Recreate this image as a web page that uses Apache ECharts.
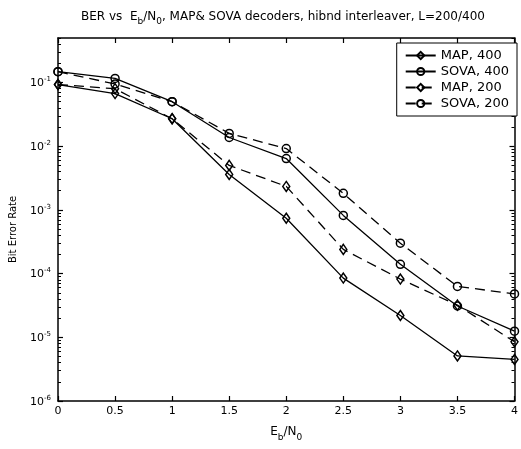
<!DOCTYPE html>
<html>
<head>
<meta charset="utf-8">
<script src="https://cdn.jsdelivr.net/npm/echarts@6/dist/echarts.min.js"></script>
<style>
html,body{margin:0;padding:0;background:#fff;}
#chart{width:521px;height:449px;}
</style>
</head>
<body>
<div id="chart"></div>
<script>
// ---- data ----
const ebno = [0, 0.5, 1, 1.5, 2, 2.5, 3, 3.5, 4];
const map400  = [0.093, 0.067, 0.027, 0.0036, 7.4e-4, 8.5e-5, 2.2e-5, 5.1e-6, 4.5e-6];
const sova400 = [0.148, 0.116, 0.050, 0.0137, 6.4e-3, 8.2e-4, 1.4e-4, 3.1e-5, 1.25e-5];
const map200  = [0.093, 0.080, 0.027, 0.0050, 2.34e-3, 2.4e-4, 8.2e-5, 3.2e-5, 8.5e-6];
const sova200 = [0.148, 0.095, 0.050, 0.0159, 9.2e-3, 1.82e-3, 3.0e-4, 6.3e-5, 4.8e-5];
const seriesNames = ['MAP, 400', 'SOVA, 400', 'MAP, 200', 'SOVA, 200'];
const xTickLabels = ['0', '0.5', '1', '1.5', '2', '2.5', '3', '3.5', '4'];
const yDecadeTicks = [1e-6, 1e-5, 1e-4, 1e-3, 1e-2, 1e-1];
const yMinorTicks = [];
for (let k = -6; k <= -1; k++) {
  for (let m = 2; m <= 9; m++) {
    const v = m * Math.pow(10, k);
    if (v <= 0.5) yMinorTicks.push(v);
  }
}

const FONT = 'DejaVu Sans';
const pairs = arr => ebno.map((x, i) => [x, arr[i]]);

const chart = echarts.init(document.getElementById('chart'), null, {renderer: 'canvas'});

const axisLineStyle = {show: true, lineStyle: {color: '#000', width: 1.5}};
const yBase = {type: 'log', logBase: 10, min: 1e-6, max: 0.5, splitLine: {show: false}};

function mkSeries(name, data, symbol, dashed) {
  return {
    name: name,
    type: 'line',
    data: pairs(data),
    symbol: symbol,
    symbolSize: symbol === 'diamond' ? [7, 10] : 8,
    showSymbol: true,
    showAllSymbol: true,
    lineStyle: {color: '#000', width: 1.3, type: dashed ? [10, 6] : 'solid'},
    itemStyle: {color: 'rgba(255,255,255,0)', borderColor: '#000', borderWidth: 1.5},
    emphasis: {disabled: true},
    animation: false,
    z: 3
  };
}

const option = {
  backgroundColor: '#fff',
  animation: false,
  title: {
    text: '{n|BER vs  E}{s|b}{n|/N}{s|0}{n|, MAP& SOVA decoders, hibnd interleaver, L=200/400}',
    left: 76,
    top: 6,
    textStyle: {
      fontWeight: 'normal',
      rich: {
        n: {fontFamily: FONT, fontSize: 12, fontWeight: 'normal', color: '#000', verticalAlign: 'bottom', padding: [0, 0, 3, 0]},
        s: {fontFamily: FONT, fontSize: 9, fontWeight: 'normal', color: '#000', verticalAlign: 'bottom'}
      }
    }
  },
  grid: {left: 56, right: 3, top: 38, bottom: 48, containLabel: false},
  legend: {
    data: seriesNames,
    orient: 'vertical',
    right: 4,
    top: 43,
    backgroundColor: '#fff',
    borderColor: '#000',
    borderWidth: 1,
    padding: [6, 8, 6, 8],
    itemGap: 3,
    itemWidth: 30,
    itemHeight: 9,
    textStyle: {fontFamily: FONT, fontSize: 13, color: '#000'}
  },
  xAxis: [
    {
      type: 'value', min: 0, max: 4, interval: 0.5, position: 'bottom',
      axisLine: axisLineStyle,
      axisTick: {inside: true, length: 5, lineStyle: {color: '#000', width: 1.2}},
      axisLabel: {
        color: '#000', fontFamily: FONT, fontSize: 11, margin: 5,
        formatter: function (v) { return xTickLabels[Math.round(v / 0.5)]; }
      },
      splitLine: {show: false},
      name: '{n|E}{s|b}{n|/N}{s|0}',
      nameLocation: 'middle',
      nameGap: 25,
      nameTextStyle: {
        rich: {
          n: {fontFamily: FONT, fontSize: 12, color: '#000', verticalAlign: 'bottom', padding: [0, 0, 4, 0]},
          s: {fontFamily: FONT, fontSize: 9, color: '#000', verticalAlign: 'bottom'}
        }
      }
    },
    {
      type: 'value', min: 0, max: 4, interval: 0.5, position: 'top',
      axisLine: axisLineStyle,
      axisTick: {inside: true, length: 5, lineStyle: {color: '#000', width: 1.2}},
      axisLabel: {show: false},
      splitLine: {show: false}
    }
  ],
  yAxis: [
    Object.assign({}, yBase, {
      position: 'left',
      axisLine: axisLineStyle,
      axisTick: {inside: true, length: 5, customValues: yDecadeTicks, lineStyle: {color: '#000', width: 1.2}},
      axisLabel: {
        customValues: yDecadeTicks,
        margin: 7,
        formatter: function (v) { return '{b|10}{e|' + Math.round(Math.log10(v)) + '}'; },
        rich: {
          b: {fontFamily: FONT, fontSize: 11, color: '#000', verticalAlign: 'bottom'},
          e: {fontFamily: FONT, fontSize: 7, color: '#000', verticalAlign: 'bottom', padding: [0, 0, 6, 0]}
        }
      },
      name: 'Bit Error Rate',
      nameLocation: 'middle',
      nameGap: 40,
      nameTextStyle: {fontFamily: FONT, fontSize: 10, color: '#000', padding: [0, 20, 0, 0]}
    }),
    Object.assign({}, yBase, {
      position: 'left',
      axisLine: {show: false},
      axisTick: {inside: true, length: 3, customValues: yMinorTicks, lineStyle: {color: '#000', width: 1}},
      axisLabel: {show: false}
    }),
    Object.assign({}, yBase, {
      position: 'right',
      axisLine: axisLineStyle,
      axisTick: {inside: true, length: 5, customValues: yDecadeTicks, lineStyle: {color: '#000', width: 1.2}},
      axisLabel: {show: false}
    }),
    Object.assign({}, yBase, {
      position: 'right',
      axisLine: {show: false},
      axisTick: {inside: true, length: 3, customValues: yMinorTicks, lineStyle: {color: '#000', width: 1}},
      axisLabel: {show: false}
    })
  ],
  series: [
    mkSeries(seriesNames[0], map400, 'diamond', false),
    mkSeries(seriesNames[1], sova400, 'circle', false),
    mkSeries(seriesNames[2], map200, 'diamond', true),
    mkSeries(seriesNames[3], sova200, 'circle', true)
  ]
};

chart.setOption(option);
</script>
</body>
</html>
